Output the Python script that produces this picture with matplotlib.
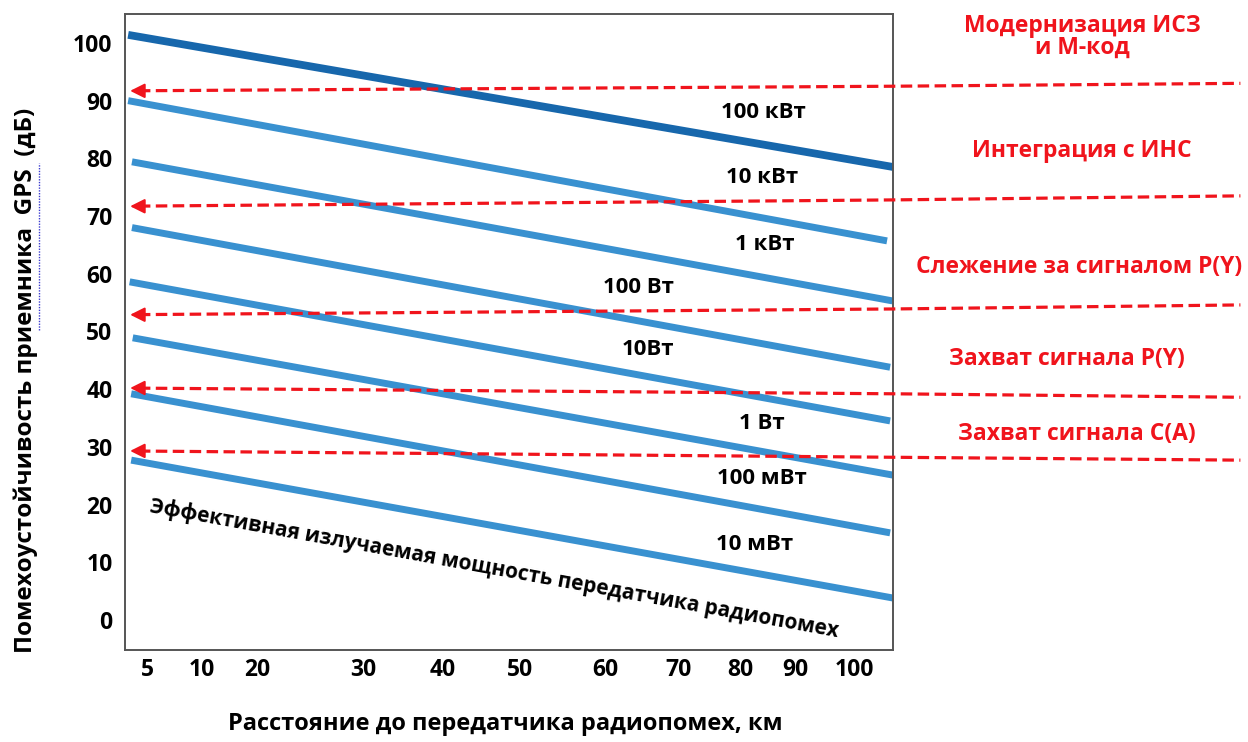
"""
Jamming tolerance of GPS receiver vs distance to the jammer
"""

import numpy as np
import matplotlib
matplotlib.use("Agg")
import matplotlib.pyplot as plt
from matplotlib.lines import Line2D

plt.rcParams['font.family'] = ['Open Sans', 'DejaVu Sans']
plt.rcParams['font.weight'] = 'bold'

#data
x_labels = ["5", "10", "20", "30", "40", "50", "60", "70", "80", "90", "100"]
x_ticks = [2.9, 10.0, 17.2, 31.0, 41.3, 51.4, 62.5, 72.0, 80.1, 87.2, 94.9]
y_ticks = [0, 10, 20, 30, 40, 50, 60, 70, 80, 90, 100]

power_names = ["100 кВт", "10 кВт", "1 кВт", "100 Вт", "10Вт", "1 Вт", "100 мВт", "10 мВт"]
line_x0 = [0.4, 0.4, 0.9, 0.9, 0.6, 1.0, 0.8, 0.8]
line_x1 = [100.0, 99.2, 99.9, 99.6, 99.6, 100.0, 99.6, 100.0]
line_y0 = [101.4, 90.0, 79.4, 68.0, 58.6, 48.9, 39.2, 27.7]
line_y1 = [78.5, 65.7, 55.3, 43.8, 34.5, 25.1, 15.1, 3.8]

#label positions for the power lines
label_x = [83.1, 82.9, 83.3, 66.8, 68.1, 82.9, 82.9, 82.0]
label_y = [87.9, 76.6, 65.0, 57.7, 46.8, 34.1, 24.6, 13.0]

#red dashed arrows (y at left tip, at right end of axes, at figure edge)
arrow_y_left = [91.7, 71.7, 52.9, 40.2, 29.3]
arrow_y_mid = [92.5, 72.8, 53.9, 39.2, 28.2]
arrow_y_right = [93.0, 73.5, 54.6, 38.6, 27.7]
stage_names = ["Модернизация ИСЗ\nи М-код", "Интеграция с ИНС", "Слежение за сигналом Р(Y)",
               "Захват сигнала Р(Y)", "Захват сигнала С(А)"]
stage_x = [124.6, 124.6, 124.2, 122.6, 123.9]
stage_y = [101.0, 81.3, 61.1, 45.2, 32.2]

fig = plt.figure(figsize=(12.48, 7.42), dpi=100)
ax = fig.add_axes([0.1002, 0.124, 0.6155, 0.857])

dark_blue = "#1767ac"
light_blue = "#3991d0"
red = "#f0141c"

for i in range(len(power_names)):
    c = dark_blue if i == 0 else light_blue
    w = 5.6 if i == 0 else 5.0
    ax.plot([line_x0[i], line_x1[i]], [line_y0[i], line_y1[i]], color=c, lw=w,
            solid_capstyle='butt', zorder=2)
    ax.text(label_x[i], label_y[i], power_names[i], ha='center', va='center',
            fontsize=16, fontweight='bold', color='black')

#arrows
x_edge = 145.2
for i in range(len(arrow_y_left)):
    ax.plot([1.8, 100.0, x_edge], [arrow_y_left[i] + 0.02*(arrow_y_mid[i]-arrow_y_left[i]), arrow_y_mid[i], arrow_y_right[i]],
            color=red, lw=2.3, dashes=(3.6, 1.7), clip_on=False, zorder=3)
    ax.annotate('', xy=(0.3, arrow_y_left[i]), xytext=(2.4, arrow_y_left[i]),
                arrowprops=dict(arrowstyle='-|>', color=red, lw=1.5, mutation_scale=22),
                zorder=3)
    ax.text(stage_x[i], stage_y[i], stage_names[i], ha='center', va='center',
            fontsize=16.5, fontweight='bold', color=red, linespacing=0.9, clip_on=False)

ax.text(48.0, 8.8, "Эффективная излучаемая мощность передатчика радиопомех",
        ha='center', va='center', rotation=-10.3, rotation_mode='anchor',
        fontsize=15, fontweight='bold', color='black')

#axes styling
ax.set_xlim(0, 100)
ax.set_ylim(-5.2, 105)
ax.set_xticks(x_ticks)
ax.set_xticklabels(x_labels)
ax.set_yticks(y_ticks)
ax.tick_params(length=0, labelsize=16.5)
ax.tick_params(axis='x', pad=6)
ax.tick_params(axis='y', pad=9)
for lab in ax.get_xticklabels() + ax.get_yticklabels():
    lab.set_fontweight('bold')
for s in ax.spines.values():
    s.set_color('#555555')
    s.set_linewidth(1.4)

fig.text(0.0208, 0.488, "Помехоустойчивость приемника  GPS  (дБ)", rotation=90,
         ha='center', va='center', fontsize=17.5, fontweight='bold')
#spellcheck squiggle under "GPS" as in the original slide
fig.add_artist(Line2D([0.0313, 0.0313], [0.555, 0.78], color='#3b3bd0', lw=1.0,
                      linestyle=(0, (1, 1))))
fig.text(0.405, 0.024, "Расстояние до передатчика радиопомех, км", ha='center',
         va='center', fontsize=17, fontweight='bold')

fig.savefig("out.png", dpi=100)
